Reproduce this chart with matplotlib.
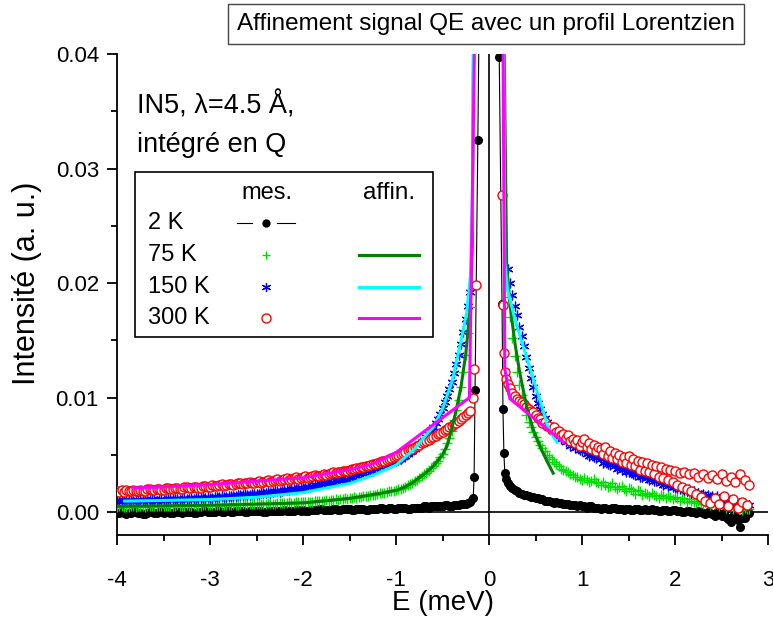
import matplotlib
matplotlib.use("Agg")
import matplotlib.pyplot as plt
import numpy as np
from matplotlib.patches import Rectangle
from matplotlib.ticker import MultipleLocator, FormatStrFormatter

plt.rcParams['font.family'] = ['Liberation Sans', 'DejaVu Sans']

# =======================
# energy grid (meV) on both flanks of the elastic line
# =======================
E_left = [-4.000, -3.975, -3.950, -3.925, -3.900, -3.875, -3.850, -3.825, -3.800, -3.775,
          -3.750, -3.725, -3.700, -3.675, -3.650, -3.625, -3.600, -3.575, -3.550, -3.525,
          -3.500, -3.475, -3.450, -3.425, -3.400, -3.375, -3.350, -3.325, -3.300, -3.275,
          -3.250, -3.225, -3.200, -3.175, -3.150, -3.125, -3.100, -3.075, -3.050, -3.025,
          -3.000, -2.975, -2.950, -2.925, -2.900, -2.875, -2.850, -2.825, -2.800, -2.775,
          -2.750, -2.725, -2.700, -2.675, -2.650, -2.625, -2.600, -2.575, -2.550, -2.525,
          -2.500, -2.475, -2.450, -2.425, -2.400, -2.375, -2.350, -2.325, -2.300, -2.275,
          -2.250, -2.225, -2.200, -2.175, -2.150, -2.125, -2.100, -2.075, -2.050, -2.025,
          -2.000, -1.975, -1.950, -1.925, -1.900, -1.875, -1.850, -1.825, -1.800, -1.775,
          -1.750, -1.725, -1.700, -1.675, -1.650, -1.625, -1.600, -1.575, -1.550, -1.525,
          -1.500, -1.475, -1.450, -1.425, -1.400, -1.375, -1.350, -1.325, -1.300, -1.275,
          -1.250, -1.225, -1.200, -1.175, -1.150, -1.125, -1.100, -1.075, -1.050, -1.025,
          -1.000, -0.975, -0.950, -0.925, -0.900, -0.875, -0.850, -0.825, -0.800, -0.775,
          -0.750, -0.725, -0.700, -0.675, -0.650, -0.625, -0.600, -0.575, -0.550, -0.525,
          -0.500, -0.475, -0.450, -0.425, -0.400, -0.375, -0.350, -0.325, -0.300, -0.275,
          -0.250, -0.225, -0.200]
E_right = [0.200, 0.225, 0.250, 0.275, 0.300, 0.325, 0.350, 0.375, 0.400, 0.425,
           0.450, 0.475, 0.500, 0.525, 0.550, 0.575, 0.600, 0.625, 0.650, 0.675,
           0.700, 0.725, 0.750, 0.775, 0.800, 0.825, 0.850, 0.875, 0.900, 0.925,
           0.950, 0.975, 1.000, 1.025, 1.050, 1.075, 1.100, 1.125, 1.150, 1.175,
           1.200, 1.225, 1.250, 1.275, 1.300, 1.325, 1.350, 1.375, 1.400, 1.425,
           1.450, 1.475, 1.500, 1.525, 1.550, 1.575, 1.600, 1.625, 1.650, 1.675,
           1.700, 1.725, 1.750, 1.775, 1.800, 1.825, 1.850, 1.875, 1.900, 1.925,
           1.950, 1.975, 2.000, 2.025, 2.050, 2.075, 2.100, 2.125, 2.150, 2.175,
           2.200, 2.225, 2.250, 2.275, 2.300, 2.325, 2.350, 2.375, 2.400, 2.425,
           2.450, 2.475, 2.500, 2.525, 2.550, 2.575, 2.600, 2.625, 2.650, 2.675,
           2.700, 2.725, 2.750, 2.775, 2.800]

# all intensities below in units of 1e-4 (a. u.)
# =======================
# mes. - 2 K
# =======================
k2_left = [-1, -1, 0, -1, -2, -1, -1, 0, 0, -1,
           -1, -2, -2, -1, 0, 0, -1, -1, 0, 0,
           -1, 0, 0, -1, -1, 0, 0, 0, -1, 0,
           0, 0, 0, -1, -1, 0, 0, 1, 1, 0,
           0, 0, 0, 1, 1, 0, 0, 1, 1, 0,
           0, 1, 1, 1, 1, 0, 0, 1, 1, 1,
           1, 1, 1, 0, 0, 1, 1, 1, 1, 1,
           1, 1, 2, 1, 1, 1, 1, 2, 2, 1,
           2, 1, 1, 2, 2, 2, 2, 3, 3, 2,
           2, 2, 2, 3, 3, 2, 2, 3, 3, 3,
           3, 2, 2, 3, 3, 3, 3, 2, 2, 3,
           3, 3, 3, 4, 4, 3, 3, 4, 4, 3,
           3, 4, 4, 4, 4, 3, 3, 4, 4, 4,
           4, 4, 5, 5, 4, 5, 5, 5, 5, 5,
           5, 6, 6, 5, 5, 6, 6, 6, 7, 7,
           7, 8, 9]
k2_peak_E = [-0.17, -0.16, -0.15, -0.12, -0.06, 0.06, 0.11, 0.14, 0.15, 0.16, 0.17, 0.18]
k2_peak = [12, 31, 107, 325, 800, 800, 397, 182, 90, 52, 34, 29]
k2_right = [25, 23, 21, 19, 18, 17, 16, 15, 15, 14,
            13, 13, 12, 12, 11, 11, 10, 10, 10, 9,
            8, 9, 8, 8, 7, 7, 7, 6, 6, 6,
            5, 6, 5, 5, 4, 5, 5, 4, 4, 4,
            3, 4, 4, 3, 3, 4, 4, 3, 3, 3,
            2, 3, 3, 2, 2, 3, 3, 2, 2, 3,
            2, 2, 3, 2, 2, 1, 1, 2, 2, 1,
            1, 2, 2, 1, 1, 0, 0, 1, 1, 0,
            0, -1, 1, 0, -1, -2, 0, -1, -2, -3,
            0, -2, -3, -1, -4, -6, -9, -3, -3, -7,
            -13, -5, -5, -2, -1]

# =======================
# mes. - 75 K
# =======================
k75_left = [4.6, 4.9, 5.1, 4.5, 4.4, 4.8, 5.2, 4.9, 4.7, 5.0,
            5.3, 4.9, 4.8, 5.2, 5.4, 5.0, 4.9, 5.3, 5.5, 5.1,
            5.0, 5.4, 5.6, 5.2, 5.2, 5.6, 5.8, 5.4, 5.3, 5.7,
            5.9, 5.5, 5.5, 5.9, 6.1, 5.7, 5.7, 6.1, 6.2, 5.9,
            5.8, 6.2, 6.3, 6.0, 6.0, 6.4, 6.5, 6.2, 6.2, 6.6,
            6.8, 6.5, 6.4, 6.8, 7.0, 6.7, 6.7, 7.1, 7.3, 7.0,
            6.9, 7.3, 7.5, 7.2, 7.2, 7.6, 7.8, 7.5, 7.5, 7.9,
            8.1, 7.8, 7.9, 8.3, 8.5, 8.2, 8.3, 8.7, 8.9, 8.6,
            8.6, 9.0, 9.2, 9.0, 9.1, 9.5, 9.7, 9.5, 9.7, 10.1,
            10.3, 10.1, 10.4, 10.8, 11.0, 10.8, 11.2, 11.6, 11.9, 11.7,
            12.1, 12.5, 12.8, 12.7, 13.2, 13.6, 13.9, 13.8, 14.4, 14.8,
            15.2, 15.2, 15.8, 16.3, 16.7, 16.8, 17.4, 18.0, 18.4, 18.7,
            19.2, 19.8, 20.3, 21.2, 22.1, 23.3, 24.6, 25.8, 27.0, 28.3,
            29.8, 31.3, 33.0, 34.5, 36.2, 38.1, 40.2, 42.5, 45.0, 47.7,
            50.5, 55.0, 60.0, 65.0, 71.0, 80.0, 89.5, 98.0, 109.0, 122.0,
            137.0, 156.0, 179.0]
k75_right = [188, 170, 152, 136, 122, 111, 102, 93, 85, 79,
             74, 70, 66, 62, 59, 56, 53, 50, 48, 46,
             44, 42, 40, 38, 37, 36, 35, 33, 32, 31,
             31, 29, 28, 30, 28, 26, 27, 29, 26, 25,
             24, 26, 24, 22, 23, 25, 22, 20, 22, 23,
             20, 18, 21, 20, 18, 16, 19, 18, 15, 17,
             16, 14, 17, 15, 14, 12, 15, 14, 12, 14,
             13, 11, 13, 12, 10, 12, 11, 9, 11, 10,
             9, 8, 10, 8, 7, 9, 8, 6, 8, 7,
             7, 5, 7, 6, 4, 6, 5, 3, 5, 4,
             4, 2, 4, 3, 3]

# =======================
# mes. - 150 K
# =======================
k150_left = [9.8, 10.5, 9.4, 10.2, 9.6, 10.6, 10.0, 9.5, 10.3, 10.8,
             10.2, 9.8, 10.7, 10.1, 10.5, 11.1, 10.4, 10.0, 10.9, 11.3,
             10.8, 10.4, 11.4, 11.0, 11.2, 11.8, 11.1, 10.9, 11.7, 12.1,
             11.5, 11.3, 12.2, 11.8, 11.9, 12.6, 12.0, 11.9, 12.7, 13.0,
             12.7, 12.4, 13.3, 13.1, 13.2, 13.8, 13.4, 13.2, 14.1, 14.4,
             14.0, 14.0, 14.8, 14.6, 14.8, 15.4, 15.0, 15.0, 15.9, 16.1,
             15.5, 15.9, 16.7, 16.5, 16.9, 17.5, 17.1, 17.3, 18.2, 18.3,
             17.9, 18.3, 19.1, 19.0, 19.5, 20.2, 19.8, 20.1, 21.1, 21.2,
             20.7, 21.4, 22.3, 22.2, 22.9, 23.6, 23.5, 24.0, 24.9, 25.1,
             25.0, 25.3, 26.2, 26.4, 27.0, 27.7, 27.8, 28.4, 29.2, 29.3,
             29.6, 30.9, 32.0, 32.4, 33.4, 34.2, 34.6, 35.5, 36.5, 37.1,
             36.1, 37.5, 38.8, 39.3, 40.7, 41.6, 42.1, 43.4, 44.5, 45.0,
             44.2, 45.6, 46.6, 47.8, 49.0, 50.6, 52.2, 53.6, 55.3, 57.1,
             59.2, 61.0, 63.2, 65.6, 68.0, 70.8, 74.0, 77.6, 81.5, 85.8,
             90.5, 95.8, 101.5, 107.5, 114.0, 121.2, 129.0, 137.5, 147.0, 157.5,
             169.0, 180.0, 192.0]
k150_right = [212, 200, 190, 180, 172, 162, 154, 145, 135, 126,
              117, 109, 101, 95, 90, 86, 82, 79, 76, 73,
              71, 68, 67, 64, 65, 61, 62, 58, 60, 56,
              57, 54, 53, 55, 51, 49, 52, 48, 47, 49,
              46, 43, 45, 42, 41, 43, 40, 38, 40, 37,
              38, 35, 35, 36, 33, 32, 34, 31, 31, 32,
              30, 28, 29, 27, 27, 28, 25, 24, 26, 23,
              24, 22, 22, 21, 20, 21, 19, 18, 20, 17,
              18, 16, 17, 15, 16, 14, 15, 13, 14, 12,
              14, 11, 12, 10, 12, 9, 10, 8, 10, 7,
              8, 6, 8, 5, 6]

# =======================
# mes. - 300 K
# =======================
k300_left = [18.5, 17.6, 18.9, 17.8, 19.0, 18.2, 18.2, 19.3, 18.8, 18.0,
             19.5, 18.6, 18.6, 19.8, 19.8, 18.9, 19.2, 20.3, 20.1, 19.3,
             19.6, 20.8, 20.7, 19.9, 20.0, 21.2, 21.2, 20.4, 20.5, 21.6,
             21.5, 20.8, 21.0, 22.3, 22.2, 21.4, 21.4, 22.9, 22.8, 21.9,
             22.2, 23.3, 23.1, 22.6, 23.6, 24.1, 22.9, 23.4, 24.3, 24.6,
             23.8, 24.2, 25.0, 25.3, 24.6, 25.1, 25.7, 26.2, 25.2, 25.6,
             26.4, 27.0, 25.8, 26.6, 27.0, 27.8, 26.6, 27.2, 27.8, 28.6,
             27.4, 27.8, 28.6, 29.6, 28.1, 28.6, 29.5, 30.4, 29.0, 29.7,
             30.4, 31.4, 30.0, 30.8, 31.5, 32.5, 31.1, 31.8, 32.6, 33.7,
             32.2, 33.0, 33.8, 34.9, 34.3, 34.8, 35.2, 36.2, 36.0, 36.2,
             36.8, 37.6, 37.7, 38.3, 38.4, 39.3, 39.6, 40.6, 40.5, 41.3,
             41.8, 42.4, 42.8, 43.7, 44.3, 45.0, 45.5, 46.5, 47.2, 47.8,
             49.0, 49.8, 50.8, 51.5, 52.5, 53.8, 54.8, 55.4, 56.6, 57.9,
             59.0, 59.9, 61.2, 62.4, 63.3, 64.5, 65.5, 66.8, 68.0, 69.0,
             70.2, 71.6, 72.8, 74.0, 75.2, 76.6, 78.0, 79.4, 81.2, 82.8,
             84.5, 86.5, 88.5]
k300_peak_E = [-0.17, -0.16, -0.14, 0.14, 0.15, 0.16, 0.17, 0.18]
k300_peak = [100, 125, 198, 277, 181, 139, 122, 116]
k300_right = [112, 108, 104, 101, 99, 97, 96, 94, 92, 90,
              88, 87, 85, 82, 81, 78, 79, 75, 75, 72,
              74, 70, 71, 67, 68, 65, 67, 62, 64, 60,
              63, 58, 61, 64, 57, 60, 55, 59, 53, 57,
              55, 51, 57, 49, 53, 47, 52, 46, 50, 44,
              48, 43, 49, 41, 46, 40, 45, 37, 44, 36,
              43, 35, 41, 33, 40, 31, 39, 30, 38, 28,
              37, 26, 36, 24, 34, 22, 35, 20, 33, 18,
              34, 16, 31, 13, 33, 10, 30, 8, 32, 12,
              29, 7, 33, 14, 27, 5, 31, 11, 26, 4,
              33, 9, 28, 6, 24]

# =======================
# affin. - Lorentzian fits
# =======================
fit75_E = [-4.0, -3.5, -3.0, -2.5, -2.0, -1.5, -1.2, -1.0, -0.9, -0.8, -0.7, -0.6, -0.5,
           -0.45, -0.4, -0.35, -0.3, -0.25, -0.2, -0.18, -0.16,
           0.15, 0.19, 0.23, 0.28, 0.33, 0.41, 0.48, 0.55, 0.62, 0.69]
fit75 = [5, 5.5, 6, 7, 8, 12, 16, 19, 22, 27, 33, 40, 50,
         58, 73, 90, 110, 138, 180, 232, 500,
         500, 215, 178, 147, 122, 90, 71, 57, 45, 34]

fit150_E = [-3.92, -3.5, -3.0, -2.5, -2.0, -1.5, -1.25, -1.0, -0.8, -0.67, -0.6, -0.5, -0.39,
            -0.3, -0.24, -0.2, -0.18, -0.16,
            0.15, 0.17, 0.20, 0.28, 0.37, 0.47, 0.58, 0.64, 0.73]
fit150 = [9.6, 10.2, 11, 13, 17, 25, 32, 41, 55, 68, 74, 90, 116,
          150, 174, 206, 260, 500,
          500, 218, 194, 168, 144, 118, 89, 73, 61]

fit300_E = [-3.83, -3.5, -3.0, -2.5, -2.0, -1.5, -1.25, -1.0, -0.21, -0.14,
            0.145, 0.17, 0.225, 0.80]
fit300 = [21, 22, 24, 27, 30, 37, 42, 52, 100, 500,
          500, 125, 99, 61]

c_k2, c_k75, c_k150, c_k300 = "black", "#00e000", "#0000ff", "#ff0000"
c_f75, c_f150, c_f300 = "#008000", "#00ffff", "#ff00ff"
u = 1e-4

fig = plt.figure(figsize=(7.73, 6.21), dpi=100)
ax = fig.add_axes([117 / 773, 86 / 621, 651 / 773, 481 / 621])

ax.axhline(0, color="black", lw=1.2, zorder=1)
ax.axvline(0, color="black", lw=1.2, zorder=1)

E_k2 = E_left + k2_peak_E + E_right
I_k2 = np.array(k2_left + k2_peak + k2_right) * u
ax.plot(E_k2, I_k2, color=c_k2, lw=0.8, marker="o", ms=5.5, mec=c_k2, mfc=c_k2, zorder=2)

I_k75 = np.array(k75_left + k75_right) * u
ax.plot(E_left + E_right, I_k75, ls="none", marker="+", ms=6.5, mew=1.0, color=c_k75, zorder=3)

I_k150 = np.array(k150_left + k150_right) * u
ax.plot(E_left + E_right, I_k150, ls="none", marker=(6, 2, 0), ms=7, mew=0.9,
        color=c_k150, zorder=4)

E_k300 = E_left + k300_peak_E + E_right
I_k300 = np.array(k300_left + k300_peak + k300_right) * u
ax.plot(E_k300, I_k300, ls="none", marker="o", ms=6.5, mew=1.0, mec=c_k300, mfc="white", zorder=5)

ax.plot(fit75_E, np.array(fit75) * u, color=c_f75, lw=2.2, zorder=6)
ax.plot(fit150_E, np.array(fit150) * u, color=c_f150, lw=2.2, zorder=7)
ax.plot(fit300_E, np.array(fit300) * u, color=c_f300, lw=2.2, zorder=8)

ax.set_xlim(-4, 3)
ax.set_ylim(-0.002, 0.04)
ax.xaxis.set_major_locator(MultipleLocator(1))
ax.xaxis.set_minor_locator(MultipleLocator(0.5))
ax.yaxis.set_major_locator(MultipleLocator(0.01))
ax.yaxis.set_minor_locator(MultipleLocator(0.005))
ax.yaxis.set_major_formatter(FormatStrFormatter("%.2f"))
ax.xaxis.set_major_formatter(FormatStrFormatter("%d"))

for s in ["top", "right"]:
    ax.spines[s].set_visible(False)
for s in ["left", "bottom"]:
    ax.spines[s].set_linewidth(1.3)
ax.tick_params(which="major", direction="out", length=7, width=1.3, labelsize=16)
ax.tick_params(which="minor", direction="out", length=4, width=1.3)
ax.tick_params(axis="x", which="major", pad=18)
ax.tick_params(axis="y", which="major", pad=6)

fig.text(443 / 773, 1 - 603 / 621, "E (meV)", fontsize=20, ha="center", va="center")
fig.text(27 / 773, 1 - 283 / 621, "Intensité (a. u.)", fontsize=22, rotation=90,
         ha="center", va="center")

fig.text(486 / 773, 1 - 24 / 621, "Affinement signal QE avec un profil Lorentzien",
         fontsize=17.5, ha="center", va="center",
         bbox=dict(boxstyle="square,pad=0.35", fc="white", ec="#444444", lw=1.0))

# annotation
ax.text(0.031, (535 - 105) / 481, "IN5, λ=4.5 Å,", transform=ax.transAxes, fontsize=19.5,
        va="center")
ax.text(0.031, (535 - 145) / 481, "intégré en Q", transform=ax.transAxes, fontsize=19.5,
        va="center")

# hand-made legend (two symbol columns)
ax.add_patch(Rectangle((0.0276, 0.4116), 0.4578, 0.3431, transform=ax.transAxes,
                       fc="white", ec="black", lw=1.2, zorder=10))
ax.text(0.2298, 0.711, "mes.", transform=ax.transAxes, fontsize=17,
        ha="center", va="center", zorder=11)
ax.text(0.4178, 0.711, "affin.", transform=ax.transAxes, fontsize=17.5,
        ha="center", va="center", zorder=11)
rows_y = [0.6486, 0.5821, 0.5162, 0.4511]
row_lbl = ["2 K", "75 K", "150 K", "300 K"]
for yy, lbl in zip(rows_y, row_lbl):
    ax.text(0.0472, yy, lbl, transform=ax.transAxes, fontsize=17,
            ha="left", va="center", zorder=11)
kw = dict(transform=ax.transAxes, clip_on=False, zorder=12)
ax.plot([0.1839, 0.2069], [rows_y[0]] * 2, color="black", lw=0.8, **kw)
ax.plot([0.2453, 0.2734], [rows_y[0]] * 2, color="black", lw=0.8, **kw)
ax.plot([0.2286], [rows_y[0]], marker="o", ms=5, color="black", **kw)
ax.plot([0.2286], [rows_y[1]], marker="+", ms=6, mew=1.0, color=c_k75, **kw)
ax.plot([0.2286], [rows_y[2]], marker=(6, 2, 0), ms=6.5, mew=0.9, color=c_k150, **kw)
ax.plot([0.2286], [rows_y[3]], marker="o", ms=6.5, mew=1.0, mec=c_k300, mfc="white", **kw)
for yy, cc in zip(rows_y[1:], [c_f75, c_f150, c_f300]):
    ax.plot([0.3717, 0.4639], [yy, yy], color=cc, lw=2.2, **kw)

fig.savefig("out.png", dpi=100)
